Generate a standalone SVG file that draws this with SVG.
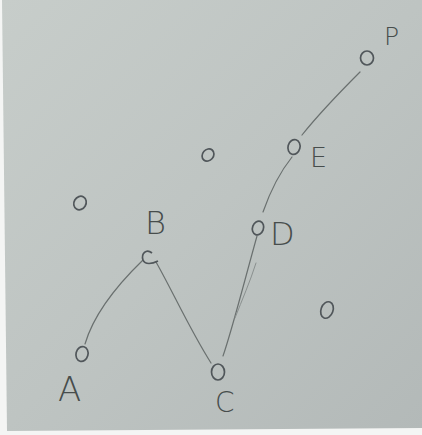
<svg xmlns="http://www.w3.org/2000/svg" width="422" height="435" viewBox="0 0 422 435">
  <defs>
    <linearGradient id="paper" x1="0" y1="0" x2="1" y2="1">
      <stop offset="0" stop-color="#c7cdca"/>
      <stop offset="0.5" stop-color="#bec4c2"/>
      <stop offset="1" stop-color="#b3b9b8"/>
    </linearGradient>
    <style>
      .node { fill: none; stroke: #50565a; stroke-width: 1.7; }
      .edge { fill: none; stroke: #6a706f; stroke-width: 1.2; stroke-linecap: round; }
      .faint { stroke: #8a908f; stroke-width: 1; }
      .lbl { font-family: "DejaVu Sans", "Liberation Sans", sans-serif; fill: #474d4c; font-weight: 300; }
    </style>
  </defs>
  <rect width="422" height="435" fill="#f4f5f4"/>
  <polygon points="2,0 422,0 422,428 7,431" fill="url(#paper)"/>

  <g id="connectors">
    <path class="edge" d="M85,344 C92,320 112,290 143,260"/>
    <path class="edge" d="M156,262 C172,290 190,330 211,363"/>
    <path class="edge" d="M223,356 C232,330 242,290 257,236"/>
    <path class="edge faint" d="M235,318 C242,300 250,282 256,263"/>
    <path class="edge" d="M263,212 C270,192 280,172 292,157"/>
    <path class="edge" d="M302,135 C318,115 340,92 360,72"/>
  </g>

  <g id="node-A">
    <ellipse class="node" cx="82" cy="354" rx="6" ry="7.5" transform="rotate(15 82 354)"/>
    <text class="lbl" x="58" y="401" font-size="34">A</text>
  </g>
  <g id="node-B">
    <path class="node" d="M152,253 C146,248 141,254 143,260 C145,265 152,264 158,261"/>
    <text class="lbl" x="145" y="234" font-size="32">B</text>
  </g>
  <g id="node-C">
    <ellipse class="node" cx="218" cy="372" rx="6.5" ry="8"/>
    <text class="lbl" x="215" y="412" font-size="28">C</text>
  </g>
  <g id="node-D">
    <ellipse class="node" cx="258" cy="228" rx="5.5" ry="7" transform="rotate(20 258 228)"/>
    <text class="lbl" x="270" y="245" font-size="32">D</text>
  </g>
  <g id="node-E">
    <ellipse class="node" cx="294" cy="147" rx="6" ry="7.5" transform="rotate(15 294 147)"/>
    <text class="lbl" x="310" y="167" font-size="27">E</text>
  </g>
  <g id="node-F">
    <ellipse class="node" cx="367" cy="58" rx="6.5" ry="7"/>
    <text class="lbl" x="384" y="45" font-size="25">P</text>
  </g>
  <g id="node-u1">
    <ellipse class="node" cx="80" cy="203" rx="6" ry="7" transform="rotate(30 80 203)"/>
  </g>
  <g id="node-u2">
    <ellipse class="node" cx="208" cy="155" rx="5.5" ry="6.5" transform="rotate(40 208 155)"/>
  </g>
  <g id="node-u3">
    <ellipse class="node" cx="327" cy="310" rx="6" ry="8.5" transform="rotate(20 327 310)"/>
  </g>
</svg>
